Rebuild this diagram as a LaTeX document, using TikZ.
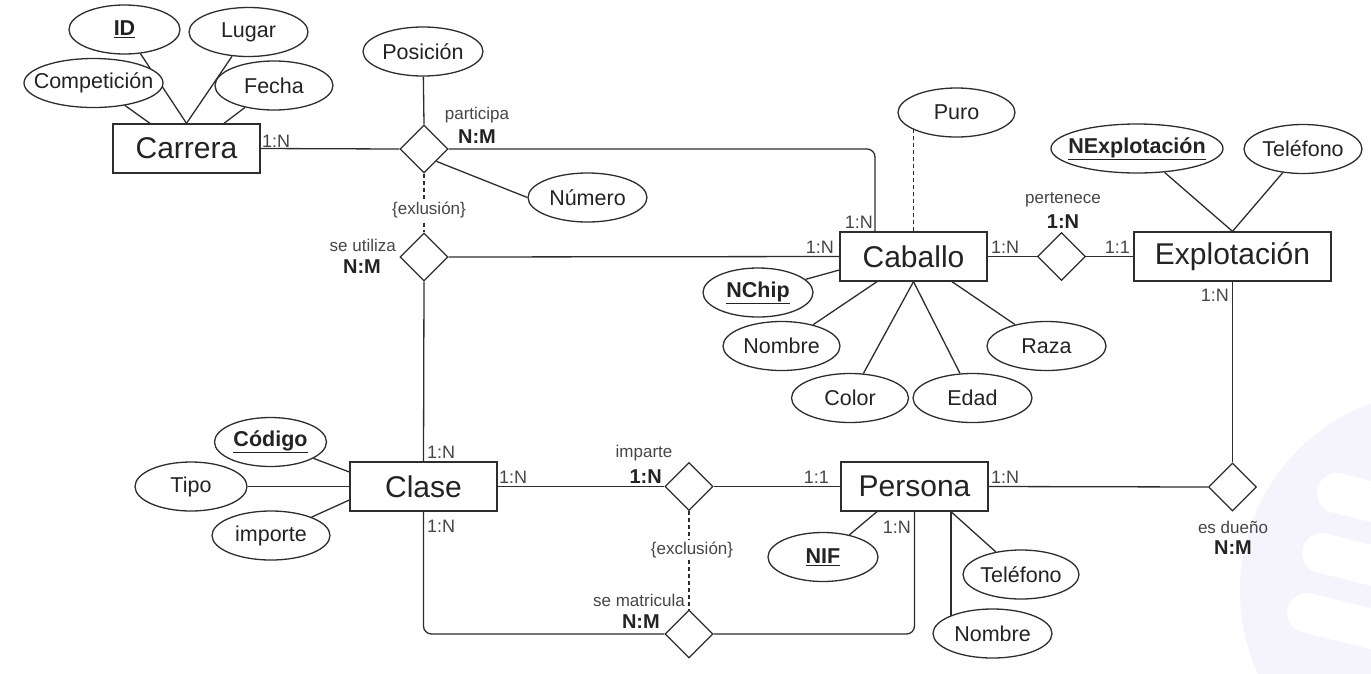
\documentclass[tikz,border=0pt]{standalone}
\usepackage{fontspec}
\setmainfont{Liberation Sans}
\usetikzlibrary{shapes.geometric,backgrounds}
\definecolor{ln}{RGB}{45,45,45}
\definecolor{tx}{RGB}{35,35,35}
\definecolor{lbl}{RGB}{70,70,70}
\definecolor{wm}{RGB}{245,244,253}
\tikzset{
  ent/.style={draw=ln, line width=1.3pt, fill=white, minimum width=147pt, minimum height=49pt, inner sep=0pt, font=\fontsize{30}{32}\selectfont, text=tx},
  attr/.style={ellipse, draw=ln, line width=1.3pt, fill=white, minimum height=49pt, inner sep=0pt},
  attrtxt/.style={inner sep=0pt, font=\fontsize{21.5}{24}\selectfont, text=tx},
  rel/.style={diamond, draw=ln, line width=1.3pt, fill=white, minimum width=48pt, minimum height=48pt, inner sep=0pt},
  card/.style={inner sep=0pt, font=\fontsize{18}{20}\selectfont, text=lbl},
  rname/.style={inner sep=0pt, font=\fontsize{17}{19}\selectfont, text=lbl},
  rcard/.style={inner sep=0pt, font=\bfseries\fontsize{20}{22}\selectfont, text=tx},
  conn/.style={draw=ln, line width=1.3pt},
  excl/.style={draw=ln, line width=1.3pt, dash pattern=on 4pt off 3pt},
}
\newcommand\attrnode[5]{\node[attr, minimum width=#4pt, label={[attrtxt]center:#5}] (#1) at (#2,#3) {};}
\begin{document}
\begin{tikzpicture}[x=1pt,y=-1pt]
\useasboundingbox (0,0) rectangle (1371,673);
% entities
\node[ent] (carrera) at (186.5,148.5) {Carrera};
\node[ent] (caballo) at (913.5,256.5) {Caballo};
\node[ent, minimum width=197pt] (explot) at (1232.5,256.5) {Explotación};
\node[ent] (clase) at (423.5,486.5) {Clase};
\node[ent] (persona) at (914.5,486.5) {Persona};
% relationships
\node[rel] (participa) at (424,149) {};
\node[rel] (seutiliza) at (424,257) {};
\node[rel] (pertenece) at (1061.5,256.5) {};
\node[rel] (imparte) at (689,486.5) {};
\node[rel] (sematricula) at (689,634) {};
\node[rel] (esdueno) at (1232.5,487) {};
% attributes
\attrnode{id}{124.5}{29.5}{111}{\underline{\textbf{ID}}}
\attrnode{lugar}{248.5}{32}{119}{Lugar}
\attrnode{comp}{93.5}{83}{139}{Competición}
\attrnode{fecha}{274}{85.5}{118}{Fecha}
\attrnode{posicion}{423}{51.5}{120}{Posición}
\attrnode{numero}{587.5}{197.5}{119}{Número}
\attrnode{puro}{956.5}{112.5}{117}{Puro}
\attrnode{nexp}{1137}{148.5}{172}{\underline{\textbf{NExplotación}}}
\attrnode{tele}{1303}{149}{118}{Teléfono}
\attrnode{nchip}{758}{292.5}{110}{\underline{\textbf{NChip}}}
\attrnode{nomc}{781.5}{346}{117}{Nombre}
\attrnode{color}{850}{398}{117}{Color}
\attrnode{edad}{972.5}{398}{119}{Edad}
\attrnode{raza}{1046.5}{346}{119}{Raza}
\attrnode{codigo}{270.5}{442}{112}{\underline{\textbf{Código}}}
\attrnode{tipo}{191}{486.5}{112}{Tipo}
\attrnode{importe}{271}{535.5}{118}{importe}
\attrnode{nif}{823}{557}{110}{\underline{\textbf{NIF}}}
\attrnode{telp}{1021}{574.5}{116}{Teléfono}
\attrnode{nomp}{992.5}{633.5}{119}{Nombre}
% cardinality labels
\node[card, anchor=west] (c1) at (262,141) {1:N};
\node[card, anchor=east] (c2) at (873,222) {1:N};
\node[card, anchor=east] (c3) at (834,247) {1:N};
\node[card, anchor=west] (c4) at (991,247) {1:N};
\node[card, anchor=east] (c5) at (1130,247) {1:1};
\node[card, anchor=east] (c6) at (1229,295) {1:N};
\node[card, anchor=west] (c7) at (427,452) {1:N};
\node[card, anchor=west] (c8) at (427,526) {1:N};
\node[card, anchor=west] (c9) at (499,477) {1:N};
\node[card, anchor=east] (c10) at (829,477) {1:1};
\node[card, anchor=east] (c11) at (911,527) {1:N};
\node[card, anchor=west] (c12) at (991,477) {1:N};
% relationship names
\node[rname] (lparticipa) at (477,115) {participa};
\node[rcard] (kparticipa) at (477,137) {N:M};
\node[rname, anchor=east] (lseutiliza) at (396,245) {se utiliza};
\node[rcard] (kseutiliza) at (362,267) {N:M};
\node[rname] (lpertenece) at (1063,200) {pertenece};
\node[rcard] (kpertenece) at (1063,222) {1:N};
\node[rname] (limparte) at (644,453) {imparte};
\node[rcard, anchor=east] (kimparte) at (662,477) {1:N};
\node[rname, anchor=east] (lsematricula) at (685,600) {se matricula};
\node[rcard, anchor=east] (ksematricula) at (660,622) {N:M};
\node[rname] (lesdueno) at (1233,527) {es dueño};
\node[rcard] (kesdueno) at (1233,548) {N:M};
\node[rname, fill=white, inner sep=1.5pt] (ex1) at (429,210) {\{exlusión\}};
\node[rname, fill=white, inner sep=1.5pt] (ex2) at (692,550) {\{exclusión\}};
\begin{scope}[on background layer]
  \fill[white] (0,0) rectangle (1371,673);
  \begin{scope}
    \clip (0,0) rectangle (1371,673);
    \fill[wm] (1440,591) circle (200);
    \draw[white, line width=40pt, line cap=round] (1337,493) -- (1430,516);
    \draw[white, line width=40pt, line cap=round] (1322,553) -- (1430,580);
    \draw[white, line width=40pt, line cap=round] (1307,613) -- (1430,643);
  \end{scope}
  % attribute links
  \draw[conn] (id) -- (carrera.north);
  \draw[conn] (lugar) -- (carrera.north);
  \draw[conn] (comp) -- ([xshift=-36.5pt]carrera.north);
  \draw[conn] (fecha) -- ([xshift=37.5pt]carrera.north);
  \draw[conn] (posicion) -- (participa.north);
  \draw[conn] (participa.south east) -- (numero.west);
  \draw[excl] (caballo.north) -- (caballo.north |- puro.center);
  \draw[conn] (nexp) -- (explot.north);
  \draw[conn] (tele) -- (explot.north);
  \draw[conn] (nchip) -- ([yshift=-13.5pt]caballo.west);
  \draw[conn] (nomc) -- ([xshift=-36.5pt]caballo.south);
  \draw[conn] (color) -- (caballo.south);
  \draw[conn] (edad) -- (caballo.south);
  \draw[conn] (raza) -- ([xshift=38.5pt]caballo.south);
  \draw[conn] (codigo) -- ([yshift=14.5pt]clase.west);
  \draw[conn] (tipo) -- (clase.west);
  \draw[conn] (importe) -- ([yshift=-13.5pt]clase.west);
  \draw[conn] (nif) -- ([xshift=-37.5pt]persona.south);
  \draw[conn] (telp) -- ([xshift=36.5pt]persona.south);
  \draw[conn] ([xshift=36.5pt]persona.south) -- ([xshift=36.5pt]persona.south |- nomp.center);
  % relationship links
  \draw[conn] (carrera.east) -- (participa.west);
  \draw[conn, rounded corners=8pt] (participa.east) -| ([xshift=-38.5pt]caballo.north);
  \draw[excl] (participa.south) -- (seutiliza.north);
  \draw[conn] (seutiliza.east) -- (caballo.west);
  \draw[conn] (seutiliza.south) -- (clase.north);
  \draw[conn] (caballo.east) -- (pertenece.west);
  \draw[conn] (pertenece.east) -- (explot.west);
  \draw[conn] (explot.south) -- (esdueno.north);
  \draw[conn] (persona.east) -- (esdueno.west);
  \draw[conn] (clase.east) -- (imparte.west);
  \draw[conn] (imparte.east) -- (persona.west);
  \draw[excl] (imparte.south) -- (sematricula.north);
  \draw[conn, rounded corners=8pt] (clase.south) |- (sematricula.west);
  \draw[conn, rounded corners=8pt] (sematricula.east) -| (persona.south);
\end{scope}
\end{tikzpicture}
\end{document}
